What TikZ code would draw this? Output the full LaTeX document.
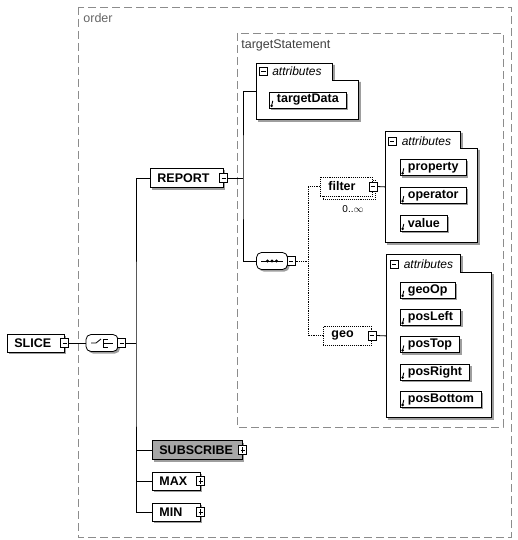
\documentclass[tikz,border=0pt]{standalone}
\usepackage{fontspec}
\setmainfont{Liberation Sans}
\usetikzlibrary{shadows,positioning}

\tikzset{
  shdw/.style={drop shadow={shadow xshift=2pt,shadow yshift=-2pt,fill=black!38,opacity=1}},
  ebox/.style={draw,fill=white,align=left,inner xsep=7pt,inner ysep=0pt,minimum height=19pt,
               font=\fontsize{12.5}{14}\selectfont\bfseries},
  elem/.style={ebox,shdw},
  optelem/.style={ebox,densely dotted,line width=0.9pt,inner xsep=8pt},
  attr/.style={ebox,shdw,minimum height=16pt,inner xsep=7.5pt,
               path picture={
                 \fill[black] ([shift={(2.2pt,2.2pt)}]path picture bounding box.south west) circle (1.4pt);
                 \draw[line width=0.9pt] ([shift={(2.2pt,2.2pt)}]path picture bounding box.south west) -- ++(1.2pt,5pt);}},
  minusbox/.style={draw,solid,line width=0.7pt,fill=white,minimum width=8pt,minimum height=9pt,inner sep=0pt,
               path picture={
                 \draw ([xshift=1.8pt]path picture bounding box.west) -- ([xshift=-1.8pt]path picture bounding box.east);}},
  plusbox/.style={draw,solid,line width=0.7pt,fill=white,minimum width=8pt,minimum height=9pt,inner sep=0pt,
               path picture={
                 \draw ([xshift=1.8pt]path picture bounding box.west) -- ([xshift=-1.8pt]path picture bounding box.east);
                 \draw ([yshift=-1.8pt]path picture bounding box.north) -- ([yshift=1.8pt]path picture bounding box.south);}},
  comp/.style={draw,fill=white,shdw,rounded corners=5pt,minimum width=32pt,minimum height=17pt,inner sep=0pt},
  seqsym/.style={path picture={
                 \coordinate (pp) at (path picture bounding box.center);
                 \draw[sharp corners,line width=1pt] ([xshift=-11pt]pp) -- ([xshift=11pt]pp);
                 \foreach \d in {-4.5,0,4.5} \fill[black] ([xshift=\d pt]pp) circle (1.7pt);}},
  chcsym/.style={path picture={
                 \coordinate (pp) at (path picture bounding box.center);
                 \draw[sharp corners,line width=0.8pt] ([xshift=-11pt]pp) -- ([xshift=-6pt]pp) -- ([shift={(-1pt,4pt)}]pp);
                 \draw[sharp corners,line width=0.8pt] ([shift={(1pt,4pt)}]pp) -- ([shift={(1pt,-4pt)}]pp);
                 \foreach \v in {-4,0,4} \draw[line width=0.8pt] ([shift={(1pt,\v pt)}]pp) -- ([shift={(6pt,\v pt)}]pp);
                 \draw[line width=0.8pt] ([xshift=6pt]pp) -- ([xshift=11pt]pp);}},
  grp/.style={inner sep=0pt,anchor=north west},
  grpline/.style={draw,fill=white,shdw},
  grptitle/.style={inner sep=0pt,font=\fontsize{12}{14}\selectfont\itshape},
  frame/.style={draw=black!45,dash pattern=on 8pt off 4pt,line width=0.7pt},
  framelbl/.style={anchor=west,inner sep=0pt,font=\fontsize{12.5}{14}\selectfont}
}

% tabbed outline of an attribute group
\newcommand{\attrtab}[3]{%
  \draw[grpline] (#1.north west) -- ([xshift=-#2]#1.north east)
    -- ([xshift=-#2,yshift=-#3]#1.north east) -- ([yshift=-#3]#1.north east)
    -- (#1.south east) -- (#1.south west) -- cycle;}

\begin{document}
\begin{tikzpicture}[x=1pt,y=-1pt,line width=0.8pt]
  \useasboundingbox (0,0) rectangle (517,540);

  % dashed frames
  \draw[frame] (78,7) rectangle (511,537);
  \node[framelbl,text=black!60] (orderlbl) at (83,18) {order};
  \draw[frame] (237,33) rectangle (503,427);
  \node[framelbl,text=black!75] (tslbl) at (241,45) {targetStatement};

  % root and choice
  \node[elem,anchor=west,text width=43pt,minimum height=18pt] (slice) at (7,343) {SLICE};
  \node[minusbox] (sliceic) at (slice.east) {};
  \node[comp,chcsym] (chc) at (102,343) {};
  \node[minusbox,right=-1pt of chc] (chcic) {};
  \coordinate (trunk) at (136,343);

  \node[elem,anchor=west,text width=59pt] (report) at (150,178) {REPORT};
  \node[minusbox] (reportic) at (report.east) {};
  \node[elem,anchor=west,text width=76pt,fill=black!35] (subscribe) at (152,450) {SUBSCRIBE};
  \node[plusbox] (subscribeic) at (subscribe.east) {};
  \node[elem,anchor=west,text width=34pt,minimum height=18pt] (maxelem) at (152,481) {MAX};
  \node[plusbox] (maxelemic) at (maxelem.east) {};
  \node[elem,anchor=west,text width=34pt,minimum height=18pt] (minelem) at (152,512) {MIN};
  \node[plusbox] (minelemic) at (minelem.east) {};

  % targetStatement
  \coordinate (trunk2) at (243,178);
  \node[grp,minimum width=102pt,minimum height=56pt] (tgtgrp) at (256,63) {};
  \attrtab{tgtgrp}{26pt}{17pt}
  \node[minusbox,minimum height=8pt] (tgtgrpic) at ([shift={(7.5pt,-8.5pt)}]tgtgrp.north west) {};
  \node[grptitle,right=4pt of tgtgrpic] (tgtgrptl) {attributes};
  \node[attr,anchor=west] (targetdata) at (269,100) {targetData};

  \node[comp,seqsym,minimum width=31pt] (seq) at (272,261) {};
  \node[minusbox,right=-1pt of seq] (seqic) {};
  \coordinate (dots) at (308,261);

  % filter
  \node[optelem,anchor=west,text width=36pt] (filterbk) at (323,189.5) {\phantom{filter}};
  \node[optelem,anchor=west,text width=36pt] (filter) at (320,186.5) {filter};
  \node[minusbox] (filteric) at (filter.east) {};
  \node[inner sep=0pt,font=\fontsize{10}{12}\selectfont] (filterocc) at (353,209) {0..$\infty$};
  \node[grp,minimum width=92pt,minimum height=111pt] (fltgrp) at (385,131) {};
  \attrtab{fltgrp}{17pt}{17pt}
  \node[minusbox,minimum height=8pt] (fltgrpic) at ([shift={(7pt,-10pt)}]fltgrp.north west) {};
  \node[grptitle,right=5pt of fltgrpic] (fltgrptl) {attributes};
  \node[attr,anchor=west] (property) at (400,167.5) {property};
  \node[attr,below=11pt of property.south west,anchor=north west] (operator) {operator};
  \node[attr,below=11pt of operator.south west,anchor=north west] (value) {value};

  % geo
  \node[optelem,anchor=west,text width=32pt] (geo) at (323,335.5) {geo};
  \node[minusbox] (geoic) at (geo.east) {};
  \node[grp,minimum width=105pt,minimum height=163pt] (geogrp) at (386,254) {};
  \attrtab{geogrp}{31pt}{18pt}
  \node[minusbox,minimum height=8pt] (geogrpic) at ([shift={(8pt,-10.5pt)}]geogrp.north west) {};
  \node[grptitle,right=5pt of geogrpic] (geogrptl) {attributes};
  \node[attr,anchor=west] (geoop) at (400,290) {geoOp};
  \node[attr,below=10.5pt of geoop.south west,anchor=north west] (posleft) {posLeft};
  \node[attr,below=10.5pt of posleft.south west,anchor=north west] (postop) {posTop};
  \node[attr,below=10.5pt of postop.south west,anchor=north west] (posright) {posRight};
  \node[attr,below=10.5pt of posright.south west,anchor=north west] (posbottom) {posBottom};

  % connectors
  \draw (sliceic) -- (chc);
  \draw (chcic.east) -- (trunk);
  \draw (report.west) -| (trunk) |- (minelem.west);
  \draw (subscribe.west) -- (subscribe.west -| trunk);
  \draw (maxelem.west) -- (maxelem.west -| trunk);
  \draw (reportic.east) -- (trunk2);
  \draw (tgtgrp.west) -| (trunk2) |- (seq.west);
  \draw[densely dotted] (seqic.east) -- (dots);
  \draw[densely dotted] (filter.west) -| (dots) |- (geo.west);
  \draw (filteric.east) -- (fltgrp.west);
  \draw (geoic.east) -- (geogrp.west);
\end{tikzpicture}
\end{document}
